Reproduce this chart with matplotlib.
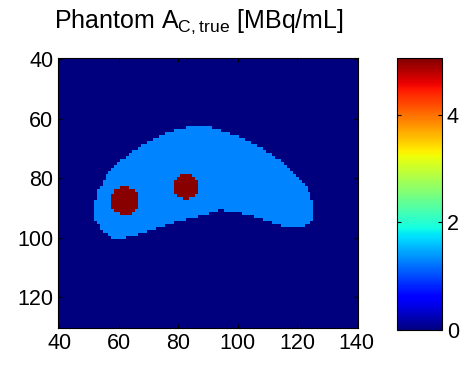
import numpy as np
import matplotlib
matplotlib.use('Agg')
import matplotlib.pyplot as plt
from matplotlib.path import Path

plt.rcParams['font.family'] = ['Liberation Sans', 'DejaVu Sans']

# Контур органа (банан), координаты пикселей
outline_x = [51.7, 52.6, 55.5, 61.0, 68.0, 75.5, 83.4, 89.0, 94.0, 100.8, 107.5,
             114.2, 119.9, 123.8, 125.9, 125.3, 122.0, 116.5, 110.9, 105.3, 100.8,
             94.0, 91.2, 82.3, 74.4, 67.7, 62.1, 57.6, 54.2, 52.0]
outline_y = [89.6, 84.5, 79.5, 73.8, 68.8, 64.9, 62.6, 62.4, 63.7, 66.0, 69.4,
             73.8, 79.5, 83.9, 89.6, 94.0, 96.8, 96.8, 94.6, 92.9, 91.8,
             90.7, 91.8, 94.0, 96.3, 98.5, 100.2, 100.2, 97.4, 94.0]

# Горячие очаги
spot_x = [62.1, 82.5]
spot_y = [87.6, 82.8]
spot_r = [4.8, 4.3]

# Активности
bg_value = 0.0
organ_value = 1.3
spot_value = 5.0

xs = np.arange(40, 141)
ys = np.arange(40, 131)
X, Y = np.meshgrid(xs, ys)
pts = np.column_stack([X.ravel(), Y.ravel()])

img = np.full(X.shape, bg_value)
organ = Path(np.column_stack([outline_x, outline_y])).contains_points(pts).reshape(X.shape)
img[organ] = organ_value
for cx, cy, r in zip(spot_x, spot_y, spot_r):
    img[(X - cx) ** 2 + (Y - cy) ** 2 <= r ** 2] = spot_value

fig = plt.figure(figsize=(4.61, 3.65), dpi=100)
ax = fig.add_axes([58 / 461, 1 - 328 / 365, 300 / 461, 270 / 365])
im = ax.imshow(img, cmap='jet', vmin=0, vmax=5.05, interpolation='nearest',
               extent=(39.5, 140.5, 130.5, 39.5), aspect='auto')
ax.set_xticks([40, 60, 80, 100, 120, 140])
ax.set_yticks([40, 60, 80, 100, 120])
ax.tick_params(direction='in', top=True, right=True, labelsize=15.5, length=3)
ax.set_title('Phantom A$_{\\mathregular{C,true}}$ [MBq/mL]', fontsize=18, pad=22, x=0.47)

cax = fig.add_axes([397 / 461, 1 - 330 / 365, 45 / 461, 272 / 365])
cb = fig.colorbar(im, cax=cax, ticks=[0, 2, 4])
cb.ax.tick_params(direction='in', left=True, right=True, labelsize=15.5, length=3)

fig.savefig('out.png', dpi=100)
